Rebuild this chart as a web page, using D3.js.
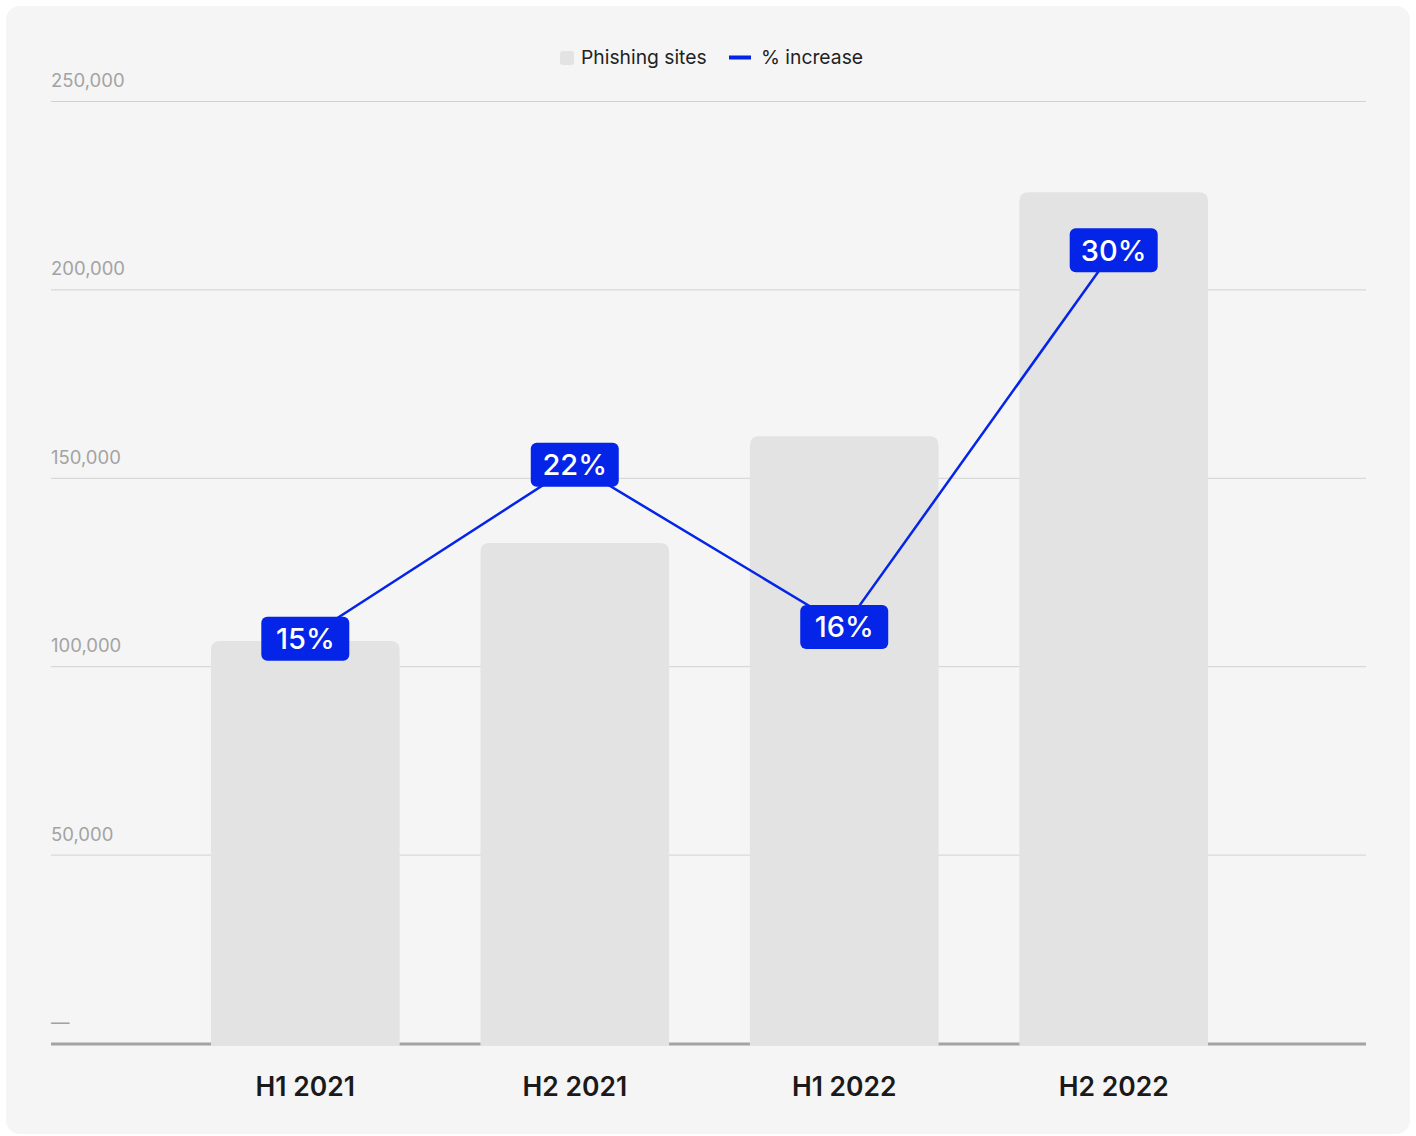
<!DOCTYPE html>
<html>
<head>
<meta charset="utf-8">
<script src="https://cdn.jsdelivr.net/npm/d3@7"></script>
<style>
  html, body { margin: 0; padding: 0; background: #ffffff; }
  svg { display: block; font-family: Inter, "Noto Sans", sans-serif; }
</style>
</head>
<body>
<svg id="chart" width="1416" height="1136"></svg>
<script>
// Half-year periods
const periods = ["H1 2021", "H2 2021", "H1 2022", "H2 2022"];
// Number of phishing sites detected per period
const phishingSites = [106700, 132700, 161000, 225800];
// Period-over-period growth, percent
const pctIncrease = [15.45, 22.1, 15.9, 30.3];
// Left axis ticks
const yTicks = [0, 50000, 100000, 150000, 200000, 250000];

const svg = d3.select("#chart");
const W = 1416, H = 1136;
const plotLeft = 51, plotRight = 1366, plotTop = 101, plotBottom = 1043;

// card background
svg.append("rect")
  .attr("x", 6).attr("y", 6).attr("width", W - 12).attr("height", H - 8)
  .attr("rx", 14).attr("fill", "#f5f5f5");

const x = d3.scaleBand().domain(periods).range([plotLeft + 1, plotRight + 1])
  .paddingInner(0.3).paddingOuter(0.59);
const y = d3.scaleLinear().domain([0, 250000]).range([plotBottom, plotTop]);
const y2 = d3.scaleLinear().domain([0, 36]).range([plotBottom, plotTop]);

// gridlines + tick labels
const fmt = d3.format(",");
const grid = svg.append("g");
yTicks.filter(t => t > 0).forEach(t => {
  grid.append("line")
    .attr("x1", plotLeft).attr("x2", plotRight)
    .attr("y1", y(t) + 0.5).attr("y2", y(t) + 0.5)
    .attr("stroke", "#d2d2d2").attr("stroke-width", 1);
});
yTicks.forEach(t => {
  grid.append("text")
    .attr("x", plotLeft).attr("y", y(t) - 14)
    .attr("fill", "#a3a3a3").attr("font-size", 18.5)
    .text(t === 0 ? "—" : fmt(t));
});

// baseline
svg.append("line")
  .attr("x1", plotLeft).attr("x2", plotRight)
  .attr("y1", plotBottom + 1).attr("y2", plotBottom + 1)
  .attr("stroke", "#a3a3a3").attr("stroke-width", 3);

// bars with rounded top corners
const r = 9;
function barPath(x0, w, y0, y1) {
  return `M${x0},${y1} L${x0},${y0 + r} Q${x0},${y0} ${x0 + r},${y0} L${x0 + w - r},${y0} Q${x0 + w},${y0} ${x0 + w},${y0 + r} L${x0 + w},${y1} Z`;
}
svg.append("g").selectAll("path").data(periods).join("path")
  .attr("d", (d, i) => barPath(x(d), x.bandwidth(), y(phishingSites[i]), plotBottom + 3))
  .attr("fill", "#e3e3e3");

// x labels
svg.append("g").selectAll("text").data(periods).join("text")
  .attr("x", d => x(d) + x.bandwidth() / 2)
  .attr("y", 1096)
  .attr("text-anchor", "middle")
  .attr("font-size", 26.5).attr("font-weight", 600).attr("fill", "#1a1a1a")
  .text(d => d);

// % increase line
const blue = "#0424e8";
const pts = periods.map((d, i) => [x(d) + x.bandwidth() / 2, y2(pctIncrease[i])]);
svg.append("path")
  .attr("d", d3.line()(pts))
  .attr("fill", "none").attr("stroke", blue).attr("stroke-width", 2.5);

// value labels
const lab = svg.append("g").selectAll("g").data(pts).join("g")
  .attr("transform", p => `translate(${p[0]},${p[1]})`);
lab.append("rect")
  .attr("x", -44).attr("y", -22).attr("width", 88).attr("height", 44)
  .attr("rx", 6).attr("fill", blue);
lab.append("text")
  .attr("text-anchor", "middle").attr("dy", "0.36em")
  .attr("font-size", 29).attr("font-weight", 500).attr("fill", "#ffffff")
  .text((p, i) => d3.format(".0f")(pctIncrease[i]) + "%");

// legend
const lg = svg.append("g");
lg.append("rect").attr("x", 560).attr("y", 51).attr("width", 14).attr("height", 14)
  .attr("rx", 3).attr("fill", "#e3e3e3");
lg.append("text").attr("x", 581).attr("y", 64).attr("font-size", 19.3).attr("fill", "#222")
  .text("Phishing sites");
lg.append("rect").attr("x", 729).attr("y", 55.5).attr("width", 22).attr("height", 4)
  .attr("fill", blue);
lg.append("text").attr("x", 761).attr("y", 64).attr("font-size", 19.3).attr("fill", "#222")
  .text("% increase");
</script>
</body>
</html>
